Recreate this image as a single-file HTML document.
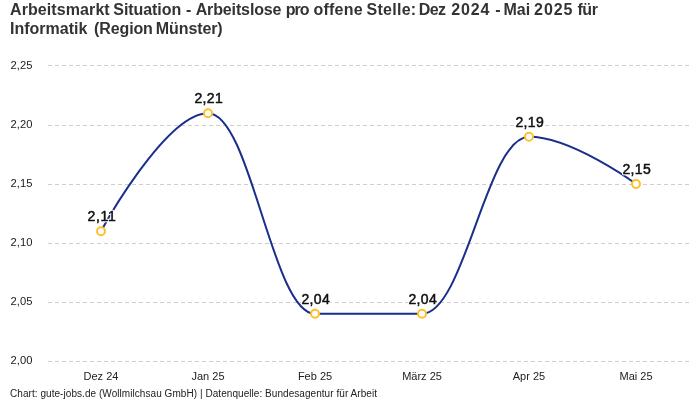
<!DOCTYPE html>
<html><head><meta charset="utf-8">
<style>
html,body{margin:0;padding:0;background:#fff;}
body{width:700px;height:400px;overflow:hidden;position:relative;font-family:"Liberation Sans",sans-serif;}
svg{position:absolute;left:0;top:0;will-change:transform;}
text{font-family:"Liberation Sans",sans-serif;}
.title{font-size:16px;font-weight:bold;fill:#333;}
.ax{font-size:11.2px;fill:#222;}
.halo{font-size:14px;fill:#fff;stroke:#fff;stroke-width:2.4px;stroke-linejoin:round;}
.lbl{font-size:14px;fill:#111;stroke:#111;stroke-width:0.5px;}
.foot{font-size:10px;fill:#222;}
.grid{stroke:#cfcfcf;stroke-width:1;stroke-dasharray:4 3;}
</style></head><body>
<svg width="700" height="400" viewBox="0 0 700 400">
<text class="title" y="15"><tspan x="10.0" textLength="99.7" lengthAdjust="spacing">Arbeitsmarkt</tspan><tspan x="113.3" textLength="67.9" lengthAdjust="spacing">Situation</tspan><tspan x="185.9">-</tspan><tspan x="195.7" textLength="85.8" lengthAdjust="spacing">Arbeitslose</tspan><tspan x="285.8" textLength="23.7" lengthAdjust="spacing">pro</tspan><tspan x="313.4" textLength="49.3" lengthAdjust="spacing">offene</tspan><tspan x="366.6" textLength="49.6" lengthAdjust="spacing">Stelle:</tspan><tspan x="418.8" textLength="27.2" lengthAdjust="spacing">Dez</tspan><tspan x="451.2" textLength="38.3" lengthAdjust="spacing">2024</tspan><tspan x="495.2">-</tspan><tspan x="503.5" textLength="26.7" lengthAdjust="spacing">Mai</tspan><tspan x="534.1" textLength="38.3" lengthAdjust="spacing">2025</tspan><tspan x="577.4" textLength="20.5" lengthAdjust="spacing">für</tspan></text>
<text class="title" y="34"><tspan x="10.0" textLength="77.3" lengthAdjust="spacing">Informatik</tspan><tspan x="94.1" textLength="58.8" lengthAdjust="spacing">(Region</tspan><tspan x="155.8" textLength="66.9" lengthAdjust="spacing">Münster)</tspan></text>
<g class="grid">
<line x1="48" x2="690" y1="65.5" y2="65.5"/>
<line x1="48" x2="690" y1="125.5" y2="125.5"/>
<line x1="48" x2="690" y1="184.5" y2="184.5"/>
<line x1="48" x2="690" y1="243.5" y2="243.5"/>
<line x1="48" x2="690" y1="302.5" y2="302.5"/>
<line x1="48" x2="690" y1="361.5" y2="361.5"/>
</g>
<g class="ax">
<text x="10.6" y="69">2,25</text>
<text x="10.6" y="128.4">2,20</text>
<text x="10.6" y="187.1">2,15</text>
<text x="10.6" y="246.1">2,10</text>
<text x="10.6" y="305.1">2,05</text>
<text x="10.6" y="364.1">2,00</text>
</g>
<g class="ax" text-anchor="middle" style="font-size:11px">
<text x="101" y="380">Dez 24</text>
<text x="208" y="380">Jan 25</text>
<text x="315" y="380">Feb 25</text>
<text x="422" y="380">März 25</text>
<text x="529" y="380">Apr 25</text>
<text x="636" y="380">Mai 25</text>
</g>
<path d="M101.00,231.20C101.00,231.20,165.20,113.20,208.00,113.20C250.80,113.20,272.20,313.80,315.00,313.80C357.80,313.80,379.20,313.80,422.00,313.80C464.80,313.80,486.20,136.80,529.00,136.80C571.80,136.80,636.00,184.00,636.00,184.00" fill="none" stroke="#1a2f8c" stroke-width="2"/>
<g fill="#fff" stroke="#fdc22b" stroke-width="2">
<circle cx="101" cy="231.20" r="4"/>
<circle cx="208" cy="113.20" r="4"/>
<circle cx="315" cy="313.80" r="4"/>
<circle cx="422" cy="313.80" r="4"/>
<circle cx="529" cy="136.80" r="4"/>
<circle cx="636" cy="184.00" r="4"/>
</g>
<g class="halo" text-anchor="middle">
<text x="101.6" y="221.2" textLength="28.2" lengthAdjust="spacing">2,11</text>
<text x="208.6" y="103.2" textLength="28.2" lengthAdjust="spacing">2,21</text>
<text x="315.6" y="303.8" textLength="28.2" lengthAdjust="spacing">2,04</text>
<text x="422.6" y="303.8" textLength="28.2" lengthAdjust="spacing">2,04</text>
<text x="529.6" y="126.8" textLength="28.2" lengthAdjust="spacing">2,19</text>
<text x="636.6" y="174.0" textLength="28.2" lengthAdjust="spacing">2,15</text>
</g>
<g class="lbl" text-anchor="middle">
<text x="101.6" y="221.2" textLength="28.2" lengthAdjust="spacing">2,11</text>
<text x="208.6" y="103.2" textLength="28.2" lengthAdjust="spacing">2,21</text>
<text x="315.6" y="303.8" textLength="28.2" lengthAdjust="spacing">2,04</text>
<text x="422.6" y="303.8" textLength="28.2" lengthAdjust="spacing">2,04</text>
<text x="529.6" y="126.8" textLength="28.2" lengthAdjust="spacing">2,19</text>
<text x="636.6" y="174.0" textLength="28.2" lengthAdjust="spacing">2,15</text>
</g>
<text class="foot" x="10" y="397" textLength="367" lengthAdjust="spacing">Chart: gute-jobs.de (Wollmilchsau GmbH) | Datenquelle: Bundesagentur für Arbeit</text>
</svg>
</body></html>
